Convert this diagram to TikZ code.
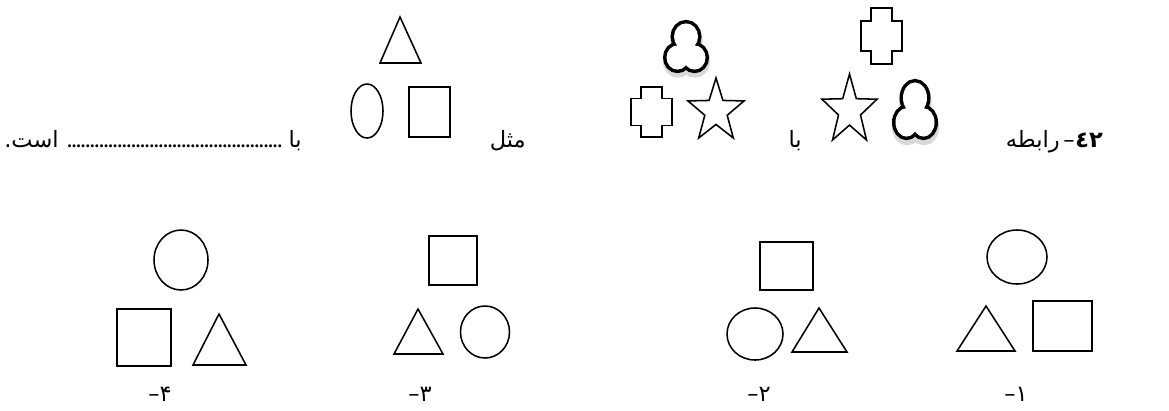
\documentclass[tikz,border=0pt]{standalone}
\usepackage{fontspec}
\setmainfont{Liberation Serif}
\newfontfamily\fa[Script=Arabic]{DejaVu Sans}
\TeXXeTstate=1

% star: centre x, top y, width, height
\newcommand\drawstar[4]{%
  \pgfmathsetmacro\srx{#3/1.902}\pgfmathsetmacro\sry{#4/1.809}
  \begin{scope}[shift={(#1,{#2+\sry})}]
    \draw[shp] (0,-\sry) \foreach \k/\rr in {1/0.4,2/1,3/0.4,4/1,5/0.4,
      6/1,7/0.4,8/1,9/0.4}{
      -- ({\srx*\rr*cos(-90+36*\k)},{\sry*\rr*sin(-90+36*\k)})
    } -- cycle;
  \end{scope}}
% cross: left x, top y, width, height
\newcommand\drawcross[4]{%
  \begin{scope}[shift={(#1,#2)}]
    \draw[shp] ({0.25*#3},0) -- ({0.75*#3},0) -- ({0.75*#3},{0.23*#4})
      -- (#3,{0.23*#4}) -- (#3,{0.77*#4}) -- ({0.75*#3},{0.77*#4})
      -- ({0.75*#3},#4) -- ({0.25*#3},#4) -- ({0.25*#3},{0.77*#4})
      -- (0,{0.77*#4}) -- (0,{0.23*#4}) -- ({0.25*#3},{0.23*#4}) -- cycle;
  \end{scope}}
% trefoil: centre x, centre y, yscale
\newcommand\drawtrefoil[3]{%
  \begin{scope}[shift={(#1,#2)},yscale=#3]
    \begin{scope}[shift={(0.5,3.5)}]
      \filldraw[black!15,line width=6pt] (0,-10) circle (12)
        (-8.5,9) circle (11) (8.5,9) circle (11);
    \end{scope}
    \draw[line width=5pt] (0,-10) circle (12) (-8.5,9) circle (11)
      (8.5,9) circle (11);
    \fill[white] (0,-10) circle (12) (-8.5,9) circle (11) (8.5,9) circle (11);
  \end{scope}}

\begin{document}
\begin{tikzpicture}[x=0.025cm,y=-0.025cm,
  shp/.style={line width=1.1pt,line join=miter},
  txt/.style={font=\fa\fontsize{16}{18}\selectfont,inner sep=0pt}]
\useasboundingbox (0,0) rectangle (1169,410);
% question line
\node[txt,anchor=base west] (num) at (1075,147) {\bfseries ٤٢};
\node[txt,anchor=base east] (dash) at (1075,147) {–};
\node[txt,anchor=base east] (rel) at (1060,147) {\beginR رابطه\endR};
\node[txt,anchor=base east] (with1) at (802,147) {\beginR با\endR};
\node[txt,anchor=base east] (like) at (526,147) {\beginR مثل\endR};
\node[txt,anchor=base east] (with2) at (302,147) {\beginR با\endR};
\node[anchor=base west,inner sep=0pt,font=\fontsize{13}{15}\selectfont\bfseries]
  (blank) at (67,147) {...............................................};
\node[txt,anchor=base west] (is) at (4,147) {\beginR است.\endR};
% first pair
\drawcross{861}{8}{41}{56}
\drawstar{849.5}{74}{55}{66}
\drawtrefoil{915}{110.8}{1.29}
% second pair
\drawtrefoil{686}{47.6}{1.1}
\drawcross{631}{87}{41}{50}
\drawstar{716}{78}{56}{60}
% third
\draw[shp] (400,17) -- (421,63) -- (380,63) -- cycle;
\draw[shp] (367,111) ellipse (16 and 27);
\draw[shp] (409,87) rectangle (450,137);
% answers
\draw[shp] (1017,257) ellipse (30 and 27);
\draw[shp] (986,306) -- (1015,351) -- (957,351) -- cycle;
\draw[shp] (1033,301) rectangle (1092,351);
\draw[shp] (760,242) rectangle (813,290);
\draw[shp] (755,334) ellipse (28 and 26);
\draw[shp] (819,308) -- (847,352) -- (792,352) -- cycle;
\draw[shp] (429,236) rectangle (477,285);
\draw[shp] (418,309) -- (443,354) -- (394,354) -- cycle;
\draw[shp] (485,332) ellipse (24.5 and 26);
\draw[shp] (181,260) ellipse (27 and 30);
\draw[shp] (117,309) rectangle (171,366);
\draw[shp] (219,314) -- (246,365) -- (193,365) -- cycle;
\foreach \i/\d/\x in {1/۱/1016,2/۲/759,3/۳/420,4/۴/160}{
  \node[txt,anchor=base] (opt\i) at (\x,401) {\hbox{–}\hbox{\d}};
}
\end{tikzpicture}
\end{document}
